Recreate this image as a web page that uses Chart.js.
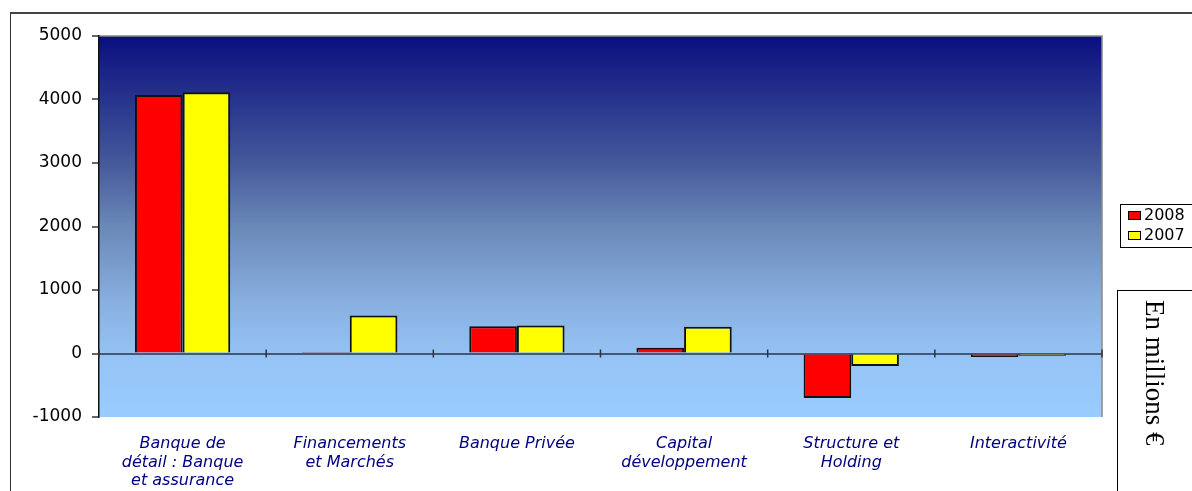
<!DOCTYPE html>
<html>
<head>
<meta charset="utf-8">
<script src="https://cdn.jsdelivr.net/npm/chart.js@4.4.1/dist/chart.umd.min.js"></script>
<style>
  html, body { margin: 0; padding: 0; background: #fff; }
  #wrap { position: relative; width: 1192px; height: 491px; overflow: hidden; }
  #frame { position: absolute; left: 10px; top: 12px; width: 1200px; height: 500px;
           border-left: 1.5px solid #333; border-top: 2px solid #444; }
  #legend { position: absolute; left: 1120px; top: 204px; width: 90px; height: 42px;
            border: 1px solid #000; background: #fff; font: 16px "DejaVu Sans", sans-serif; }
  #legend div { position: relative; height: 20px; line-height: 20px; padding-left: 23px; }
  #legend span { position: absolute; left: 7px; top: 6px; width: 11px; height: 7px; border: 1px solid #000; }
  #unit { position: absolute; left: 1117px; top: 290px; width: 90px; height: 210px;
          border: 1.5px solid #000; background: #fff; }
  #unit div { position: absolute; left: 52px; top: 9px; transform-origin: 0 0; transform: rotate(90deg);
              white-space: nowrap; font: 27px "Liberation Serif", "Times New Roman", serif; }
</style>
</head>
<body>
<div id="wrap">
  <div id="frame"></div>
  <canvas id="c" width="1192" height="491" style="position:absolute;left:0;top:0;"></canvas>
  <div id="legend">
    <div><span style="background:#ff0000"></span>2008</div>
    <div><span style="background:#ffff00"></span>2007</div>
  </div>
  <div id="unit"><div>En millions €</div></div>
</div>
<script>
var categories = [
    ["Banque de", "détail : Banque", "et assurance"],
    ["Financements", "et Marchés"],
    "Banque Privée",
    ["Capital", "développement"],
    ["Structure et", "Holding"],
    "Interactivité"
];
var values2008 = [4070, 8, 430, 90, -700, -55];
var values2007 = [4115, 600, 440, 420, -195, -35];
var yTicks = [-1000, 0, 1000, 2000, 3000, 4000, 5000];

// gradient background + category tick marks on the zero line
var plotBack = {
    id: 'plotBack',
    beforeDraw: function(chart) {
        var a = chart.chartArea, ctx = chart.ctx;
        var g = ctx.createLinearGradient(0, a.top, 0, a.bottom);
        g.addColorStop(0, '#0a0f80');
        g.addColorStop(0.33, '#44589a');
        g.addColorStop(0.5, '#6a88b8');
        g.addColorStop(0.7, '#88b0e0');
        g.addColorStop(0.85, '#96c4f6');
        g.addColorStop(1, '#99ccff');
        ctx.save();
        ctx.fillStyle = g;
        ctx.fillRect(a.left, a.top, a.right - a.left, a.bottom - a.top);
        ctx.strokeStyle = '#8a8a8a';
        ctx.lineWidth = 1.5;
        ctx.beginPath();
        ctx.moveTo(a.left, a.top);
        ctx.lineTo(a.right, a.top);
        ctx.lineTo(a.right, a.bottom);
        ctx.stroke();
        ctx.restore();
    },
    afterDatasetsDraw: function(chart) {
        var x = chart.scales.x, y = chart.scales.y, ctx = chart.ctx;
        var y0 = y.getPixelForValue(0);
        var step = x.getPixelForValue(1) - x.getPixelForValue(0);
        ctx.save();
        ctx.strokeStyle = '#333';
        ctx.lineWidth = 1.5;
        ctx.beginPath();
        for (var i = 0; i < categories.length + 1; i++) {
            var px = x.getPixelForValue(0) - step / 2 + i * step;
            ctx.moveTo(px, y0 - 4);
            ctx.lineTo(px, y0 + 4);
        }
        ctx.stroke();
        ctx.restore();
    }
};

new Chart(document.getElementById('c'), {
    type: 'bar',
    data: {
        labels: categories,
        datasets: [
            { label: '2008', data: values2008, backgroundColor: '#ff0000', borderColor: '#111', borderWidth: 2 },
            { label: '2007', data: values2007, backgroundColor: '#ffff00', borderColor: '#111', borderWidth: 2 }
        ]
    },
    plugins: [plotBack],
    options: {
        responsive: false,
        animation: false,
        layout: { padding: { left: 0, top: 36, right: 90, bottom: 0 } },
        datasets: { bar: { categoryPercentage: 0.57, barPercentage: 1 } },
        plugins: { legend: { display: false }, tooltip: { enabled: false } },
        scales: {
            x: {
                grid: { display: false },
                border: { display: false },
                ticks: {
                    padding: 10,
                    maxRotation: 0,
                    autoSkip: false,
                    color: '#000080',
                    font: { family: '"DejaVu Sans", sans-serif', size: 16, style: 'italic', lineHeight: 1.15 }
                },
                afterFit: function(s) { s.height = 74; }
            },
            y: {
                min: -1000,
                max: 5000,
                afterBuildTicks: function(s) { s.ticks = yTicks.map(function(v) { return { value: v }; }); },
                grid: {
                    drawOnChartArea: true,
                    color: function(c) { return c.tick && c.tick.value === 0 ? '#4a566e' : 'rgba(0,0,0,0)'; },
                    lineWidth: 2,
                    tickColor: '#666',
                    tickLength: 7
                },
                border: { color: '#111', width: 1.5 },
                ticks: {
                    padding: 10,
                    color: '#000',
                    font: { family: '"DejaVu Sans", sans-serif', size: 17 },
                    callback: function(v) { return String(v); }
                },
                afterFit: function(s) { s.width = 99; }
            }
        }
    }
});
</script>
</body>
</html>
